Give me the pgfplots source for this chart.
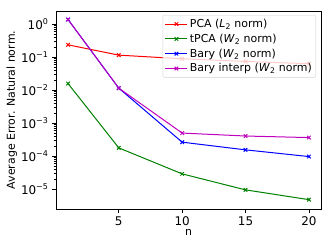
\documentclass[border=0pt]{standalone}
\usepackage{fontspec}
\setmainfont{DejaVu Sans}
\usepackage{pgfplots}
\usetikzlibrary{calc}
\pgfplotsset{compat=1.18}
\definecolor{mplred}{rgb}{1,0,0}
\definecolor{mplgreen}{rgb}{0,0.5,0}
\definecolor{mplblue}{rgb}{0,0,1}
\definecolor{mplmag}{rgb}{0.75,0,0.75}
\begin{document}
\begin{tikzpicture}
\begin{axis}[
  scale only axis,
  width=265bp, height=198bp,
  ymode=log,
  xmin=0.05, xmax=20.95,
  ymin=2.5e-6, ymax=2.5,
  xtick={5,10,15,20},
  xticklabels={5,10,15,20},
  ytick={1e-5,1e-4,1e-3,1e-2,1e-1,1},
  yticklabels={10\textsuperscript{−5},10\textsuperscript{−4},10\textsuperscript{−3},10\textsuperscript{−2},10\textsuperscript{−1},10\textsuperscript{0}},
  tick align=outside,
  tick pos=left,
  major tick length=4bp,
  minor tick length=2.3bp,
  tick style={black, line width=0.6bp},
  ticklabel style={font=\fontsize{12}{14}\selectfont},
  axis line style={black, line width=0.7bp},
  xlabel={n},
  ylabel={Average Error. Natural norm.},
  label style={font=\fontsize{11}{13}\selectfont},
  xlabel style={yshift=3bp},
  ylabel style={yshift=-3bp},
  legend style={at={(1,1)}, anchor=north east, xshift=-5bp, yshift=-4bp,
    draw=gray!35, rounded corners=2bp, fill=white, fill opacity=0.8, text opacity=1,
    font=\fontsize{11}{13}\selectfont, row sep=1bp, inner xsep=2bp, inner ysep=2bp},
  legend cell align=left,
  legend image code/.code={\draw[mark repeat=2,mark phase=2] plot coordinates {(0bp,0bp) (11bp,0bp) (22bp,0bp)};},
  every axis plot/.append style={line width=1bp, mark=x, mark size=2.5bp, mark options={solid}},
]
\addplot[mplred] coordinates {(1,0.236) (5,0.115) (10,0.089) (15,0.074) (20,0.063)};
\addlegendentry{PCA (\textit{L}\textsubscript{2} norm)}
\addplot[mplgreen] coordinates {(1,0.0158) (5,1.78e-4) (10,2.9e-5) (15,9.5e-6) (20,4.8e-6)};
\addlegendentry{tPCA (\textit{W}\textsubscript{2} norm)}
\addplot[mplblue] coordinates {(1,1.38) (5,0.0115) (10,2.65e-4) (15,1.55e-4) (20,9.7e-5)};
\addlegendentry{Bary (\textit{W}\textsubscript{2} norm)}
\addplot[mplmag] coordinates {(1,1.38) (5,0.0115) (10,5.0e-4) (15,4.07e-4) (20,3.65e-4)};
\addlegendentry{Bary interp (\textit{W}\textsubscript{2} norm)}
\end{axis}
\pgfresetboundingbox
\path[use as bounding box] ($(current axis.south west)+(-56bp,-40bp)$) rectangle ($(current axis.north east)+(11bp,11bp)$);
\end{tikzpicture}
\end{document}
